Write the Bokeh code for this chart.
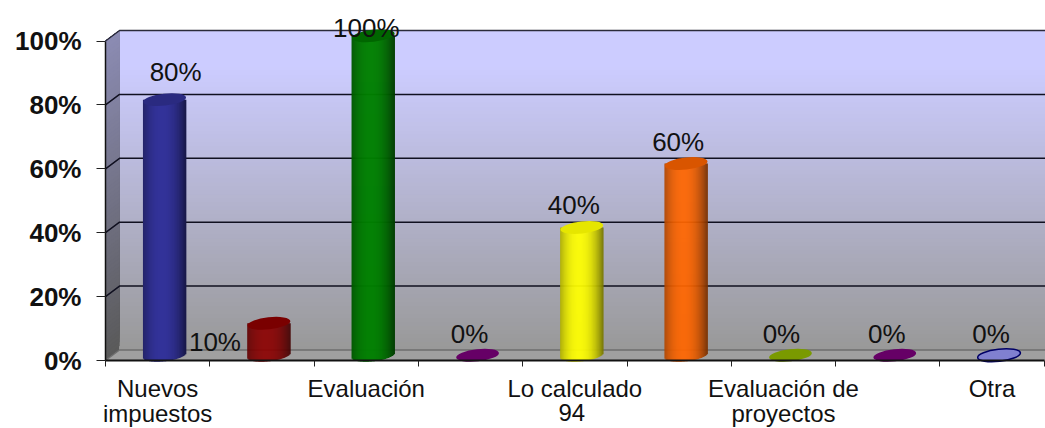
from bokeh.embed import file_html
from bokeh.models import FixedTicker, ColumnDataSource
from bokeh.plotting import figure
from bokeh.resources import INLINE
from bokeh.core.properties import value
import math

categories = ["Nuevos\nimpuestos", "", "Evaluación", "", "Lo calculado", "", "Evaluación de\nproyectos", "", "Otra"]
values = [80, 10, 100, 0, 40, 60, 0, 0, 0]
colors = ["#333399", "#8C0000", "#008000", "#660066", "#FFFF00", "#FF6600", "#7A9A00", "#660066", "#8080D0"]
cap_colors = ["#2A2A80", "#7A0000", "#006600", "#660066", "#E6E600", "#D95500", "#7A9A00", "#660066", "#8080D0"]
y_ticks = [0, 20, 40, 60, 80, 100]

# value label nudges in pixels, relative to the top of the front plane
label_dx = [18, -47, 0, -1, -1, -1, -2, -1, -1]
label_dy = [33, -13, 13, 27, 28, 27, 27, 27, 27]

FONT = "Liberation Sans"
STEP = 104.3      # pixels per category
PCT = 3.195       # pixels per percentage point
DEPTH_X = 14 / STEP
DEPTH_Y = 10.5 / PCT
BAR_W = 43
CAP_H = 12
TILT = 0.11
LEFT = 105        # pixels left of the first category
BELOW = 68        # pixels under the zero line


def mix(a, b, t):
    ca = [int(a[i:i + 2], 16) for i in (1, 3, 5)]
    cb = [int(b[i:i + 2], 16) for i in (1, 3, 5)]
    return "#%02x%02x%02x" % tuple(round(u + (v - u) * t) for u, v in zip(ca, cb))


def shade(c, f):
    return mix("#000000", c, f)


p = figure(width=1045, height=428, frame_width=1045, frame_height=428,
           x_range=(-LEFT / STEP, 940 / STEP), y_range=(-BELOW / PCT, 360 / PCT),
           output_backend="svg", toolbar_location=None,
           min_border_left=0, min_border_right=0, min_border_top=0, min_border_bottom=0)
p.outline_line_color = None
p.xgrid.visible = False
p.ygrid.visible = False
p.background_fill_color = "white"
p.border_fill_color = "white"

x_max = 940 / STEP

# back wall: lavender fading to grey, each band painted over the one beneath it
bands = 80
for k in range(bands):
    t = k / bands
    f = min(1.0, t / 0.88)
    p.quad(left=[DEPTH_X], right=[x_max], bottom=[DEPTH_Y + 100 * t], top=[DEPTH_Y + 100],
           fill_color=mix("#999999", "#CCCCFF", f), line_color=None)

# left side wall, dark at the foot and grey-blue at the head
for k in range(bands):
    t = k / bands
    y0 = 100 * t
    p.patch([0, DEPTH_X, DEPTH_X, 0], [y0, y0 + DEPTH_Y, 100 + DEPTH_Y, 100],
            fill_color=mix("#5A5A5A", "#8C8CB4", t), line_color=None)

# floor
p.patch([0, DEPTH_X, x_max, x_max], [0, DEPTH_Y, DEPTH_Y, 0], fill_color="#A0A0A0", line_color=None)

# gridlines along the back wall with their returns down the side wall
for tick in y_ticks:
    col = "#6E6E6E" if tick == 0 else ("#2A2A3A" if tick == 100 else "#101020")
    p.line([0, DEPTH_X, x_max], [tick, tick + DEPTH_Y, tick + DEPTH_Y], line_color=col,
           line_width=1.5 if tick else 1.4)

# cylinders: narrow vertical strips give the rounded shading
strips = BAR_W
for i, v in enumerate(values):
    cx = i + 0.5 + DEPTH_X / 2
    base = DEPTH_Y / 2
    if v > 0:
        ls, rs, bs, ts, cs = [], [], [], [], []
        for k in range(strips):
            u = (k + 0.5) / strips * 2 - 1
            ls.append(cx + (u * BAR_W / 2 - 0.7) / STEP)
            rs.append(cx + (u * BAR_W / 2 + 0.7) / STEP)
            drop = (CAP_H / 2) * math.sqrt(max(0.0, 1 - u * u)) - TILT * u * BAR_W / 2
            bs.append(base - drop / PCT)
            ts.append(base + v)
            f = 1.0 - 0.42 * abs(u + 0.12) ** 2.2
            cs.append(shade(colors[i], f))
        p.quad(left=ls, right=rs, bottom=bs, top=ts, fill_color=cs, line_color=None)
    outline = "#000066" if colors[i] == "#8080D0" else None
    p.ellipse(x=[cx], y=[base + v], width=BAR_W, height=CAP_H, angle=TILT,
              width_units="screen", height_units="screen",
              fill_color=cap_colors[i], line_color=outline, line_width=1.5)

# value labels
src = ColumnDataSource(dict(
    x=[i + 0.5 for i in range(len(values))],
    y=values,
    text=[f"{v}%" for v in values],
    dx=label_dx,
    dy=[-d for d in label_dy],
))
p.text(x="x", y="y", text="text", x_offset="dx", y_offset="dy", source=src,
       text_font=value(FONT), text_font_size="26px", text_color="#111111",
       text_align="center", text_baseline="middle")

# page number that sits over the category row
p.text(x=[4.5], y=[-(412 - 360) / PCT], text=["94"], text_font=value(FONT), text_font_size="24px",
       text_color="#111111", text_align="center", text_baseline="middle", x_offset=-3)

# axes, pinned to the zero lines inside the full-page frame
xa = p.xaxis[0]
xa.fixed_location = 0
xa.ticker = FixedTicker(ticks=[i + 0.5 for i in range(9)], minor_ticks=list(range(10)))
xa.major_label_overrides = {i + 0.5: c for i, c in enumerate(categories)}
xa.bounds = (0, 9)
xa.major_tick_line_color = None
xa.major_tick_out = 6
xa.minor_tick_out = 6
xa.minor_tick_in = 0
xa.minor_tick_line_color = "#222222"
xa.minor_tick_line_width = 1
xa.axis_line_color = "#111111"
xa.axis_line_width = 2
xa.major_label_standoff = 8
xa.major_label_text_font = FONT
xa.major_label_text_font_size = "24px"
xa.major_label_text_line_height = 0.95
xa.major_label_text_color = "#111111"
xa.major_label_orientation = "horizontal"

ya = p.yaxis[0]
ya.fixed_location = 0
ya.ticker = FixedTicker(ticks=y_ticks)
ya.major_label_overrides = {t: f"{t}%" for t in y_ticks}
ya.bounds = (0, 100)
ya.major_tick_out = 9
ya.major_tick_in = 0
ya.minor_tick_line_color = None
ya.major_tick_line_color = "#222222"
ya.axis_line_color = "#111111"
ya.axis_line_width = 1.5
ya.major_label_standoff = 15
ya.major_label_text_font = FONT
ya.major_label_text_font_style = "bold"
ya.major_label_text_font_size = "26px"
ya.major_label_text_color = "#111111"

open("out.html", "w").write(file_html(p, INLINE))
